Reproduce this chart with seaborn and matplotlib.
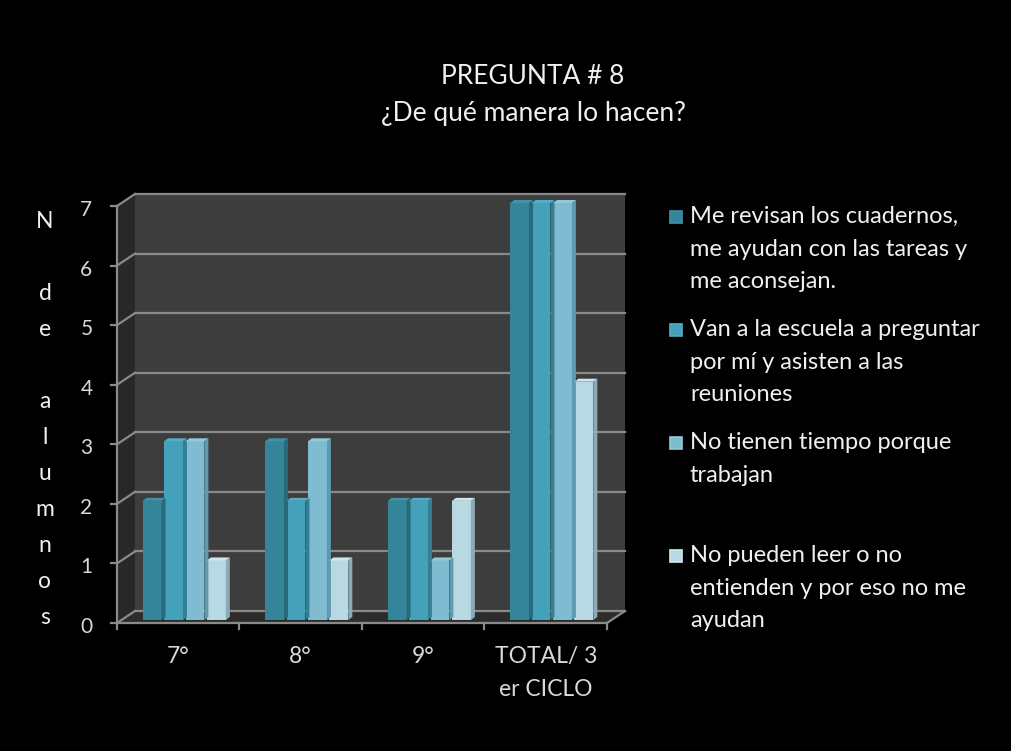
import matplotlib.pyplot as plt
import pandas as pd
import seaborn as sns
from matplotlib.patches import Polygon, Rectangle
from matplotlib.transforms import ScaledTranslation

# Data
grados = ['7°', '8°', '9°', 'TOTAL/ 3\ner CICLO']
respuestas = [
    'Me revisan los cuadernos,\nme ayudan con las tareas y\nme aconsejan.',
    'Van a la escuela a preguntar\npor mí y asisten a las\nreuniones',
    'No tienen tiempo porque\ntrabajan',
    'No pueden leer o no\nentienden y por eso no me\nayudan',
]
revisan = [2, 3, 2, 7]
van_escuela = [3, 2, 2, 7]
no_tiempo = [3, 3, 1, 7]
no_pueden = [1, 1, 2, 4]

colores = ['#34859a', '#44a1ba', '#7fbcd1', '#b8d9e3']
lados = ['#286a7b', '#347f93', '#5f9bb0', '#8aacb7']
topes = ['#3e93a9', '#52aec6', '#93c9db', '#cfe6ee']

df = pd.DataFrame({
    'grado': grados * 4,
    'respuesta': [r for r in respuestas for _ in grados],
    'n': revisan + van_escuela + no_tiempo + no_pueden,
})

plt.rcParams['font.family'] = ['Lato', 'DejaVu Sans']

fig = plt.figure(figsize=(10.12, 7.51), dpi=100)
fig.patch.set_facecolor('black')
W, H = 1012, 751
ax = fig.add_axes([123 / W, 1 - 620 / H, 490 / W, 417 / H])
ax.set_facecolor('none')
ax.set_xlim(-0.5, 3.5)
ax.set_ylim(0, 7)
for s in ax.spines.values():
    s.set_visible(False)

# pixel -> data units
ux = 4 / 490
uy = 7 / 417
bx, by = 12 * ux, 9 * uy     # back wall offset
fx, fy = -6 * ux, -3 * uy    # front edge offset

# walls
ax.add_patch(Rectangle((-0.5 + bx, by), 4, 7, facecolor='#3d3d3d', edgecolor='none', zorder=0, clip_on=False))
ax.add_patch(Polygon([(-0.5 + fx, fy), (-0.5 + fx, 7 + fy), (-0.5 + bx, 7 + by), (-0.5 + bx, by)],
                     facecolor='#282828', edgecolor='none', zorder=0, clip_on=False))
ax.add_patch(Polygon([(-0.5 + fx, fy), (3.5 + fx, fy), (3.5 + bx, by), (-0.5 + bx, by)],
                     facecolor='#2c2c2c', edgecolor='none', zorder=0, clip_on=False))

gris = '#8a8a8a'
for y in range(8):
    ax.plot([-0.5 + bx, 3.5 + bx], [y + by, y + by], color=gris, lw=1.6, zorder=0.5, clip_on=False)
    ax.plot([-0.5 + fx, -0.5 + bx], [y + fy, y + by], color=gris, lw=1.6, zorder=0.5, clip_on=False)
    ax.plot([-0.5 + fx - 6 * ux, -0.5 + fx], [y + fy, y + fy], color=gris, lw=1.6, zorder=0.5, clip_on=False)
ax.plot([-0.5 + fx, -0.5 + fx], [fy, 7 + fy], color=gris, lw=1.6, zorder=3, clip_on=False)
ax.plot([-0.5 + fx, 3.5 + fx], [fy, fy], color=gris, lw=1.6, zorder=3, clip_on=False)
ax.plot([3.5 + fx, 3.5 + bx], [fy, by], color=gris, lw=1.6, zorder=3, clip_on=False)
for k in range(5):
    ax.plot([k - 0.5 + fx, k - 0.5 + fx], [fy, fy - 6 * uy], color=gris, lw=1.6, zorder=3, clip_on=False)

sns.barplot(data=df, x='grado', y='n', hue='respuesta', palette=colores, hue_order=respuestas,
            width=0.7, gap=0.12, saturation=1, linewidth=0, legend=False, ax=ax, zorder=2)

# 3D side and top faces for each bar
dx, dy = 4 * ux, 3 * uy
for i, cont in enumerate(ax.containers):
    for bar in cont:
        bar.set_clip_on(False)
        x0 = bar.get_x()
        x1 = x0 + bar.get_width()
        h = bar.get_height()
        ax.add_patch(Polygon([(x1, 0), (x1, h), (x1 + dx, h + dy), (x1 + dx, dy)],
                             facecolor=lados[i], edgecolor='none', zorder=2, clip_on=False))
        ax.add_patch(Polygon([(x0, h), (x1, h), (x1 + dx, h + dy), (x0 + dx, h + dy)],
                             facecolor=topes[i], edgecolor='none', zorder=2, clip_on=False))

ax.set_xlabel('')
ax.set_ylabel('')
ax.set_yticks(range(8))
ax.tick_params(axis='y', length=0, pad=22, labelsize=15, labelcolor='#d9d9d9')
ax.tick_params(axis='x', length=0, pad=19, labelsize=16.5, labelcolor='#d9d9d9')
for t in ax.get_yticklabels():
    t.set_transform(t.get_transform() + ScaledTranslation(0, -0.05, fig.dpi_scale_trans))
for t in ax.get_xticklabels():
    t.set_linespacing(1.67)
    t.set_transform(t.get_transform() + ScaledTranslation(-0.06, 0, fig.dpi_scale_trans))

# vertical axis title, one letter per line
letras = ['N', '', 'd', 'e', '', 'a', 'l', 'u', 'm', 'n', 'o', 's']
for i, ch in enumerate(letras):
    fig.text(45 / W, 1 - (222 + 36 * i) / H, ch, ha='center', va='center', fontsize=16.5, color='#f0f0f0')

fig.text(533 / W, 1 - 95 / H, 'PREGUNTA # 8\n¿De qué manera lo hacen?', ha='center', va='center',
         fontsize=19, color='#f0f0f0', linespacing=1.55)

# legend
cap_top = [209, 322, 435, 548]
for i, lab in enumerate(respuestas):
    yc = cap_top[i]
    fig.patches.append(Rectangle((670 / W, 1 - (yc + 14) / H), 12 / W, 12 / H, transform=fig.transFigure,
                                 facecolor=colores[i], edgecolor=topes[i], lw=1.2, figure=fig))
    fig.text(690 / W, 1 - (yc - 3) / H, lab, ha='left', va='top', fontsize=17, color='#f0f0f0',
             linespacing=1.68)

fig.savefig('out.png', dpi=100, facecolor='black')
